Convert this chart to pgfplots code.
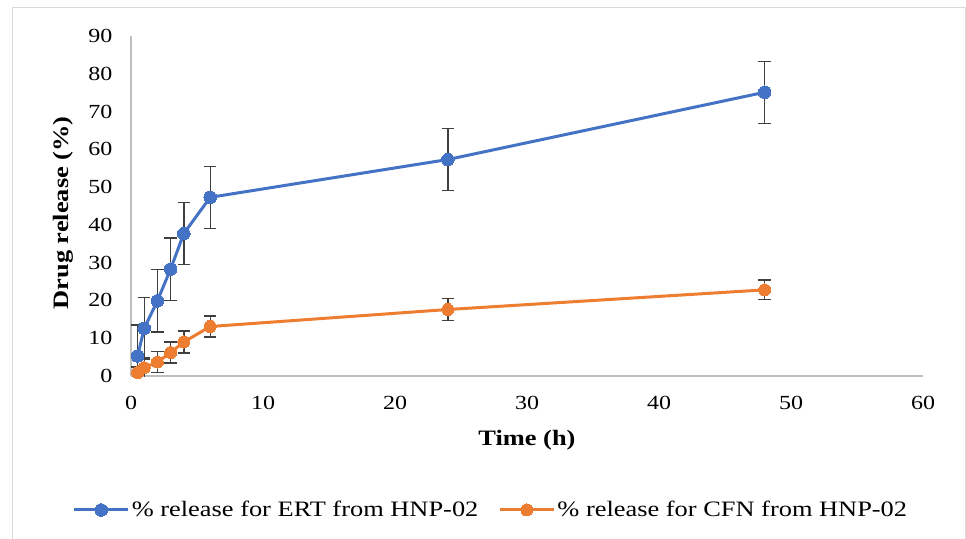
\documentclass[border=0pt]{standalone}
\usepackage{fontspec}
\setmainfont{Liberation Serif}[FakeStretch=1.2]
\usepackage{pgfplots}
\pgfplotsset{compat=1.18}
\definecolor{exblue}{HTML}{4472C4}
\definecolor{exorange}{HTML}{ED7D31}
\definecolor{axgray}{HTML}{BFBFBF}
\definecolor{bordgray}{HTML}{D9D9D9}
\definecolor{errgray}{HTML}{404040}
\begin{document}
\begin{tikzpicture}[x=1pt,y=1pt]
\path[use as bounding box] (0,0) rectangle (966,538);
\draw[bordgray, line width=1pt] (12,-1) -- (12,530) -- (965,530) -- (965,-1);
\begin{axis}[
  at={(131pt,162pt)}, anchor=south west,
  scale only axis, width=792pt, height=340pt,
  xmin=0, xmax=60, ymin=0, ymax=90,
  axis x line*=bottom, axis y line*=left,
  axis line style={axgray, line width=1.3pt},
  xtick={0,10,...,60}, ytick={0,10,...,90},
  tick style={draw=none},
  /pgf/number format/assume math mode=true,
  ticklabel style={font=\fontsize{20}{24}\selectfont},
  xticklabel style={yshift=-17pt},
  yticklabel style={xshift=-15pt},
  xlabel={\textbf{Time (h)}},
  ylabel={\textbf{Drug release (\%)}},
  label style={font=\fontsize{22}{26}\selectfont},
  xlabel style={at={(axis description cs:0.5,-0.188)}, anchor=center},
  ylabel style={at={(axis description cs:-0.0859,0.48)}, anchor=center},
  legend columns=2,
  legend style={draw=none, at={(0.4545,-0.394)}, anchor=center,
    font=\fontsize{22}{26}\selectfont,
    /tikz/every even column/.append style={column sep=18pt}},
  legend image code/.code={\draw[mark repeat=2,mark phase=2,#1] plot coordinates {(0pt,0pt) (27pt,0pt) (54pt,0pt)};},
  every axis plot/.append style={line width=3pt},
]
\addplot[color=exblue, mark=*, mark size=6.3pt, mark options={fill=exblue, draw=exblue, line width=0pt},
  error bars/.cd, y dir=both, y explicit,
  error bar style={errgray, line width=1.4pt},
  error mark options={errgray, line width=1.4pt, mark size=6.2pt, rotate=90}]
  coordinates {
  (0.5,5.3) +- (0,8.2)
  (1,12.6) +- (0,8.2)
  (2,19.9) +- (0,8.3)
  (3,28.3) +- (0,8.25)
  (4,37.7) +- (0,8.2)
  (6,47.3) +- (0,8.2)
  (24,57.3) +- (0,8.2)
  (48,75.1) +- (0,8.2)
  };
\addlegendentry{\% release for ERT from HNP-02}
\addplot[color=exorange, mark=*, mark size=6pt, mark options={fill=exorange, draw=exorange, line width=0pt},
  error bars/.cd, y dir=both, y explicit,
  error bar style={errgray, line width=1.4pt},
  error mark options={errgray, line width=1.4pt, mark size=6.2pt, rotate=90}]
  coordinates {
  (0.5,0.9) +- (0,1.5)
  (1,2.2) +- (0,2.6)
  (2,3.7) +- (0,2.8)
  (3,6.2) +- (0,2.75)
  (4,9.0) +- (0,2.9)
  (6,13.1) +- (0,2.75)
  (24,17.6) +- (0,2.9)
  (48,22.8) +- (0,2.6)
  };
\addlegendentry{\% release for CFN from HNP-02}
\end{axis}
\end{tikzpicture}
\end{document}
